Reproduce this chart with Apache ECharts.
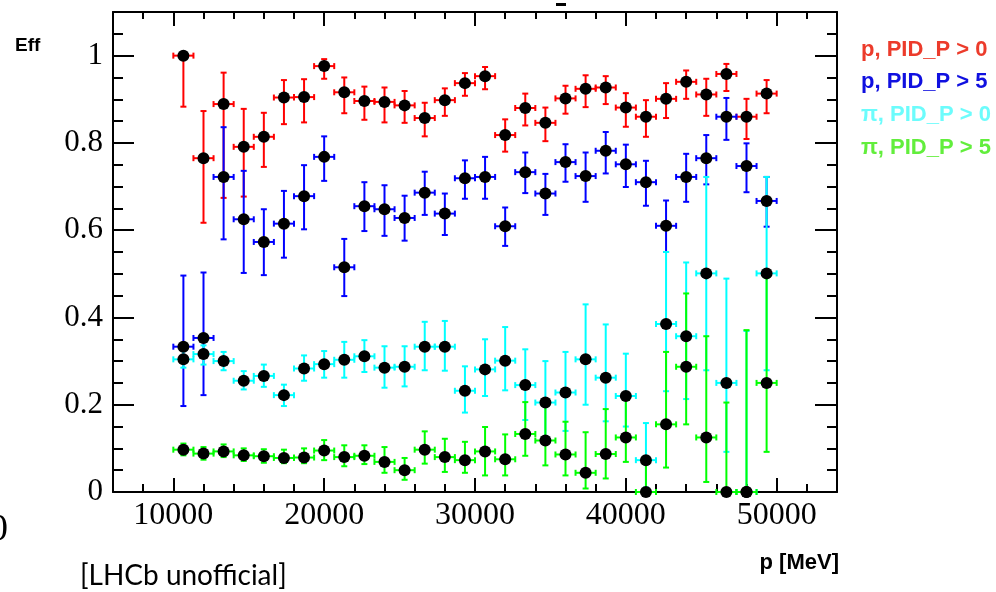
<!DOCTYPE html>
<html>
<head>
<meta charset="utf-8">
<script src="https://cdn.jsdelivr.net/npm/echarts@6/dist/echarts.min.js"></script>
<style>
html, body { margin: 0; padding: 0; background: #ffffff; }
#chart { width: 996px; height: 592px; }
</style>
</head>
<body>
<div id="chart"></div>
<script>
// Momentum bins: 30 equal bins from 10 to 50 GeV (centres in MeV)
const binCenters = [10667, 12000, 13333, 14667, 16000, 17333, 18667, 20000, 21333, 22667,
                    24000, 25333, 26667, 28000, 29333, 30667, 32000, 33333, 34667, 36000,
                    37333, 38667, 40000, 41333, 42667, 44000, 45333, 46667, 48000, 49333];
const binHalfWidth = 667;

const xMajorTicks = [10000, 20000, 30000, 40000, 50000];
const yMajorTicks = [0, 0.2, 0.4, 0.6, 0.8, 1];

const seriesNames = ['p, PID_P > 0', 'p, PID_P > 5', '\u03c0, PID_P > 0', '\u03c0, PID_P > 5'];

// protons, PID_P > 0
const pPid0 = [1.000, 0.765, 0.889, 0.791, 0.814, 0.904, 0.905, 0.976, 0.916, 0.896,
               0.894, 0.886, 0.857, 0.898, 0.937, 0.953, 0.818, 0.880, 0.846, 0.902,
               0.924, 0.927, 0.881, 0.860, 0.901, 0.940, 0.911, 0.958, 0.860, 0.913];
const pPid0Low = [0.883, 0.617, 0.674, 0.677, 0.745, 0.843, 0.847, 0.947, 0.868, 0.853,
                  0.847, 0.846, 0.815, 0.862, 0.908, 0.923, 0.780, 0.840, 0.804, 0.867,
                  0.882, 0.889, 0.837, 0.814, 0.857, 0.901, 0.862, 0.919, 0.809, 0.868];
const pPid0High = [1.000, 0.873, 0.961, 0.878, 0.869, 0.944, 0.946, 0.992, 0.950, 0.929,
                   0.927, 0.919, 0.892, 0.925, 0.960, 0.974, 0.854, 0.913, 0.881, 0.931,
                   0.955, 0.953, 0.914, 0.898, 0.937, 0.966, 0.947, 0.981, 0.901, 0.944];

// protons, PID_P > 5
const pPid5 = [0.333, 0.353, 0.722, 0.625, 0.573, 0.615, 0.678, 0.768, 0.515, 0.655,
               0.648, 0.628, 0.686, 0.638, 0.719, 0.722, 0.609, 0.733, 0.684, 0.756,
               0.724, 0.782, 0.751, 0.710, 0.610, 0.722, 0.765, 0.860, 0.747, 0.667];
const pPid5Low = [0.197, 0.222, 0.579, 0.502, 0.497, 0.537, 0.602, 0.713, 0.449, 0.598,
                  0.587, 0.576, 0.635, 0.589, 0.672, 0.672, 0.564, 0.685, 0.635, 0.711,
                  0.665, 0.730, 0.699, 0.656, 0.550, 0.665, 0.705, 0.807, 0.687, 0.608];
const pPid5High = [0.496, 0.503, 0.836, 0.736, 0.648, 0.690, 0.749, 0.815, 0.580, 0.710,
                   0.703, 0.679, 0.734, 0.684, 0.760, 0.768, 0.652, 0.778, 0.729, 0.797,
                   0.778, 0.825, 0.796, 0.759, 0.668, 0.775, 0.818, 0.903, 0.799, 0.722];

// pions, PID_P > 0
const piPid0 = [0.304, 0.316, 0.300, 0.255, 0.266, 0.222, 0.283, 0.293, 0.303, 0.311,
                0.285, 0.287, 0.333, 0.333, 0.232, 0.281, 0.301, 0.245, 0.205, 0.228,
                0.304, 0.262, 0.220, 0.073, 0.385, 0.357, 0.501, 0.250, 0.000, 0.501];
const piPid0Low = [0.285, 0.292, 0.279, 0.235, 0.241, 0.197, 0.255, 0.262, 0.262, 0.275,
                   0.239, 0.242, 0.279, 0.278, 0.182, 0.220, 0.233, 0.165, 0.125, 0.140,
                   0.200, 0.162, 0.150, 0.010, 0.231, 0.213, 0.279, 0.092, 0.000, 0.279];
const piPid0High = [0.323, 0.336, 0.321, 0.277, 0.292, 0.246, 0.313, 0.323, 0.344, 0.348,
                    0.334, 0.334, 0.390, 0.392, 0.288, 0.350, 0.378, 0.327, 0.300, 0.321,
                    0.430, 0.384, 0.317, 0.158, 0.550, 0.526, 0.722, 0.489, 0.369, 0.722];

// pions, PID_P > 5
const piPid5 = [0.097, 0.088, 0.093, 0.084, 0.082, 0.078, 0.079, 0.095, 0.080, 0.083,
                0.069, 0.050, 0.097, 0.080, 0.073, 0.093, 0.075, 0.133, 0.118, 0.086,
                0.044, 0.087, 0.125, 0.000, 0.155, 0.287, 0.125, 0.000, 0.000, 0.250];
const piPid5Low = [0.084, 0.074, 0.080, 0.071, 0.067, 0.066, 0.066, 0.073, 0.059, 0.064,
                   0.044, 0.028, 0.065, 0.046, 0.044, 0.038, 0.038, 0.083, 0.061, 0.038,
                   0.008, 0.031, 0.069, 0.000, 0.056, 0.155, 0.023, 0.000, 0.000, 0.092];
const piPid5High = [0.111, 0.103, 0.109, 0.100, 0.098, 0.097, 0.100, 0.119, 0.107, 0.107,
                    0.103, 0.078, 0.139, 0.122, 0.115, 0.149, 0.132, 0.206, 0.203, 0.161,
                    0.137, 0.190, 0.214, 0.065, 0.321, 0.455, 0.357, 0.205, 0.371, 0.491];

const barColors = ['#ff0000', '#0000ff', '#00ffff', '#00ff00'];
const labelColors = ['#ec3b2b', '#1010e0', '#6cfcfc', '#62ee3c'];

const groups = [
  [pPid0, pPid0Low, pPid0High],
  [pPid5, pPid5Low, pPid5High],
  [piPid0, piPid0Low, piPid0High],
  [piPid5, piPid5Low, piPid5High]
];

// Error bars with end caps, like ROOT's TGraphAsymmErrors
function errorBarRenderer(color) {
  return function (params, api) {
    const x = api.value(0), y = api.value(1);
    const lo = api.value(2), hi = api.value(3), hw = api.value(4);
    const pLo = api.coord([x, lo]);
    const pHi = api.coord([x, hi]);
    const pL = api.coord([x - hw, y]);
    const pR = api.coord([x + hw, y]);
    const cap = 3;
    const style = { stroke: color, lineWidth: 2 };
    const seg = (x1, y1, x2, y2) => ({ type: 'line', shape: { x1, y1, x2, y2 }, style });
    return {
      type: 'group',
      children: [
        seg(pLo[0], pLo[1], pHi[0], pHi[1]),
        seg(pLo[0] - cap, pLo[1], pLo[0] + cap, pLo[1]),
        seg(pHi[0] - cap, pHi[1], pHi[0] + cap, pHi[1]),
        seg(pL[0], pL[1], pR[0], pR[1]),
        seg(pL[0], pL[1] - cap, pL[0], pL[1] + cap),
        seg(pR[0], pR[1] - cap, pR[0], pR[1] + cap)
      ]
    };
  };
}

const series = [];
groups.forEach((g, k) => {
  series.push({
    type: 'custom',
    name: seriesNames[k],
    xAxisIndex: 0,
    yAxisIndex: 0,
    clip: false,
    z: 2 + k,
    renderItem: errorBarRenderer(barColors[k]),
    encode: { x: 0, y: 1 },
    data: binCenters.map((c, i) => [c, g[0][i], g[1][i], g[2][i], binHalfWidth])
  });
});
groups.forEach((g, k) => {
  series.push({
    type: 'scatter',
    name: seriesNames[k] + ' ',
    xAxisIndex: 0,
    yAxisIndex: 0,
    z: 10,
    symbol: 'circle',
    symbolSize: 12,
    itemStyle: { color: '#000000', opacity: 1 },
    silent: true,
    data: binCenters.map((c, i) => [c, g[0][i]])
  });
});

const black = '#000000';
const serif = 'Liberation Serif, Times New Roman, serif';
const sans = 'Liberation Sans, Arial, Helvetica, sans-serif';
const xMin = 6000, xMax = 54000, yMin = 0, yMax = 1.1;

function xAxisDef(pos, minor, tickLen, withLine, withLabels) {
  const a = {
    type: 'value', position: pos, min: xMin, max: xMax,
    axisLine: { show: withLine, onZero: false, lineStyle: { color: black, width: 2 } },
    axisTick: { show: true, inside: true, length: tickLen, lineStyle: { color: black, width: 2 } },
    splitLine: { show: false },
    axisLabel: { show: false }
  };
  if (minor) { a.interval = 2000; } else { a.axisTick.customValues = xMajorTicks; }
  if (withLabels) {
    a.axisLabel = {
      show: true, customValues: xMajorTicks, margin: 8, color: black,
      fontFamily: serif, fontSize: 32, formatter: v => String(v)
    };
  }
  return a;
}
function yAxisDef(pos, minor, tickLen, withLine, withLabels) {
  const a = {
    type: 'value', position: pos, min: yMin, max: yMax,
    axisLine: { show: withLine, onZero: false, lineStyle: { color: black, width: 2 } },
    axisTick: { show: true, inside: true, length: tickLen, lineStyle: { color: black, width: 2 } },
    splitLine: { show: false },
    axisLabel: { show: false }
  };
  if (minor) { a.interval = 0.05; } else { a.axisTick.customValues = yMajorTicks; }
  if (withLabels) {
    a.axisLabel = {
      show: true, customValues: yMajorTicks, margin: 10, color: black,
      fontFamily: serif, fontSize: 31, formatter: v => String(+v.toFixed(1))
    };
  }
  return a;
}

const option = {
  animation: false,
  backgroundColor: '#ffffff',
  grid: { left: 113, right: 159, top: 12, bottom: 100, containLabel: false },
  xAxis: [
    xAxisDef('bottom', true, 8, true, true),
    xAxisDef('bottom', false, 14, false, false),
    xAxisDef('top', true, 7, true, false),
    xAxisDef('top', false, 14, false, false)
  ],
  yAxis: [
    yAxisDef('left', true, 10, true, true),
    yAxisDef('left', false, 21, false, false),
    yAxisDef('right', true, 10, true, false),
    yAxisDef('right', false, 22, false, false)
  ],
  series: series,
  graphic: [
    { type: 'text', x: 15, y: 46, style: { text: 'Eff', fill: black, fontFamily: sans, fontWeight: 'bold', fontSize: 19, verticalAlign: 'middle' } },
    { type: 'text', x: 839, y: 563, style: { text: 'p [MeV]', fill: black, fontFamily: sans, fontWeight: 'bold', fontSize: 22, align: 'right', verticalAlign: 'middle' } },
    { type: 'text', x: 80, y: 576, style: { text: '[LHCb unofficial]', fill: black, fontFamily: 'Lato, Open Sans, sans-serif', fontSize: 28, verticalAlign: 'middle' } },
    { type: 'text', x: 8, y: 530, style: { text: '0', fill: black, fontFamily: serif, fontSize: 38, align: 'right', verticalAlign: 'middle' } },
    { type: 'rect', shape: { x: 556, y: 3, width: 10, height: 3 }, style: { fill: black } }
  ].concat(seriesNames.map((name, k) => ({
    type: 'text', x: 861, y: 49.5 + k * 32.7,
    style: { text: name, fill: labelColors[k], fontFamily: sans, fontWeight: 'bold', fontSize: 22, verticalAlign: 'middle' }
  })))
};

const chart = echarts.init(document.getElementById('chart'), null, { renderer: 'canvas' });
chart.setOption(option);
</script>
</body>
</html>
